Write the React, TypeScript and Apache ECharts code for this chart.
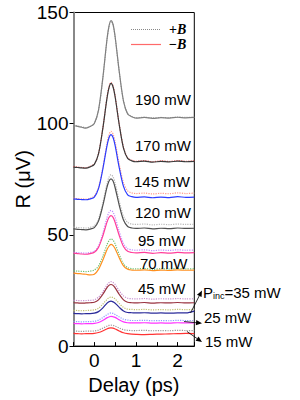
import React, { useEffect, useRef } from "react";
import * as echarts from "echarts";

// Delay axis samples (ps)
const delays = [-0.5, -0.4, -0.3, -0.2, -0.1, 0, 0.1, 0.2, 0.3, 0.35, 0.4, 0.45, 0.5, 0.6, 0.7, 0.8, 0.9, 1.0, 1.2, 1.4, 1.6, 1.8, 2.0, 2.2, 2.4];

const powerLabels = ["190 mW", "170 mW", "145 mW", "120 mW", "95 mW", "70 mW", "45 mW", "35 mW", "25 mW", "15 mW"];

// +B (dotted) and -B (solid) traces, R in µV (offset curves)
const p190Pos = [99.4, 99.0, 98.6, 98.2, 98.8, 100.2, 106.0, 119.6, 137.0, 143.4, 146.1, 144.4, 138.8, 123.0, 110.3, 104.6, 103.2, 102.7, 102.9, 102.6, 102.8, 102.7, 103.0, 102.8, 102.9];
const p190Neg = [99.2, 98.8, 98.4, 98.0, 98.7, 100.1, 106.1, 119.9, 137.3, 143.7, 146.4, 144.6, 139.0, 123.2, 110.2, 104.4, 103.1, 102.5, 102.8, 102.4, 102.7, 102.5, 102.9, 102.6, 102.8];
const p170Pos = [80.7, 80.5, 80.3, 80.2, 80.8, 81.9, 86.6, 97.6, 111.3, 116.4, 118.5, 116.9, 112.3, 99.6, 89.3, 84.6, 83.5, 83.1, 83.4, 82.9, 83.3, 83.0, 83.4, 83.1, 83.3];
const p170Neg = [80.5, 80.3, 80.1, 80.0, 80.6, 81.7, 86.4, 97.3, 110.9, 116.0, 118.1, 116.5, 112.0, 99.3, 89.0, 84.4, 83.3, 82.9, 83.2, 82.7, 83.1, 82.8, 83.2, 82.9, 83.1];
const p145Pos = [66.5, 66.3, 66.2, 66.1, 66.5, 67.4, 71.2, 79.8, 90.8, 94.9, 96.6, 95.3, 91.8, 81.6, 73.5, 69.8, 68.9, 68.6, 68.8, 68.4, 68.7, 68.5, 68.9, 68.6, 68.8];
const p145Neg = [66.2, 66.0, 65.9, 65.8, 66.2, 67.0, 70.8, 79.2, 89.7, 93.6, 95.1, 93.8, 90.1, 80.0, 71.8, 68.0, 67.2, 66.9, 67.1, 66.7, 67.0, 66.8, 67.2, 66.9, 67.0];
const p120Pos = [53.5, 53.3, 53.2, 53.1, 53.4, 54.1, 57.1, 64.0, 72.7, 75.8, 77.1, 76.1, 73.3, 65.1, 58.5, 55.6, 54.9, 54.7, 54.9, 54.5, 54.8, 54.6, 54.9, 54.7, 54.8];
const p120Neg = [52.7, 52.5, 52.4, 52.3, 52.6, 53.3, 56.2, 62.9, 71.1, 74.1, 75.2, 74.2, 71.2, 63.2, 56.7, 53.8, 53.1, 52.9, 53.1, 52.7, 53.0, 52.8, 53.1, 52.9, 53.0];
const p95Pos = [42.2, 42.0, 41.9, 41.8, 42.1, 42.6, 45.0, 50.5, 57.5, 60.0, 61.0, 60.2, 57.9, 51.4, 46.1, 43.8, 43.3, 43.1, 43.3, 42.9, 43.2, 43.0, 43.3, 43.1, 43.2];
const p95Neg = [41.8, 41.6, 41.4, 41.3, 41.6, 42.2, 44.4, 49.3, 55.5, 57.8, 58.7, 57.9, 55.6, 49.6, 44.8, 42.6, 42.1, 41.9, 42.1, 41.7, 42.0, 41.8, 42.1, 41.9, 42.0];
const p70Pos = [33.9, 33.7, 33.6, 33.5, 33.7, 34.2, 36.0, 40.2, 45.4, 47.3, 48.2, 47.6, 45.9, 41.0, 37.0, 35.3, 34.8, 34.7, 34.9, 34.5, 34.8, 34.6, 34.9, 34.7, 34.8];
const p70Neg = [32.8, 32.6, 32.5, 32.3, 32.0, 32.3, 34.5, 38.5, 43.2, 44.9, 45.7, 45.2, 43.8, 39.6, 36.1, 34.6, 34.2, 34.1, 34.3, 33.9, 34.2, 34.0, 34.3, 34.1, 34.2];
const p45Pos = [20.6, 20.5, 20.4, 20.5, 20.6, 20.8, 22.0, 24.3, 27.4, 28.5, 29.0, 28.6, 27.7, 24.8, 22.6, 21.5, 21.3, 21.2, 21.4, 21.1, 21.3, 21.2, 21.4, 21.2, 21.3];
const p45Neg = [19.5, 19.4, 19.3, 19.4, 19.5, 19.7, 20.8, 23.2, 26.2, 27.3, 27.7, 27.3, 26.2, 23.2, 20.8, 19.7, 19.5, 19.4, 19.6, 19.3, 19.5, 19.4, 19.6, 19.4, 19.5];
const p35Pos = [16.1, 16.0, 15.9, 16.0, 16.1, 16.3, 17.0, 18.8, 20.9, 21.7, 22.1, 21.8, 21.2, 19.1, 17.4, 16.6, 16.5, 16.4, 16.5, 16.3, 16.4, 16.3, 16.5, 16.4, 16.5];
const p35Neg = [14.7, 14.6, 14.5, 14.6, 14.6, 14.8, 15.5, 17.1, 19.2, 19.9, 20.2, 19.9, 19.3, 17.4, 15.8, 15.1, 15.0, 14.9, 15.0, 14.8, 14.9, 14.8, 14.9, 14.9, 15.7];
const p25Pos = [11.1, 11.0, 10.9, 11.0, 11.0, 11.2, 11.7, 12.8, 14.1, 14.6, 14.9, 14.7, 14.2, 13.1, 12.1, 11.7, 11.5, 11.5, 11.6, 11.4, 11.5, 11.4, 11.6, 11.5, 11.5];
const p25Neg = [10.2, 10.1, 10.0, 10.1, 10.1, 10.2, 10.6, 11.5, 12.7, 13.1, 13.4, 13.2, 12.9, 11.8, 10.9, 10.5, 10.4, 10.4, 10.5, 10.3, 10.4, 10.3, 10.5, 10.4, 10.4];
const p15Pos = [6.8, 6.7, 6.6, 6.7, 6.7, 6.8, 7.2, 8.0, 8.9, 9.3, 9.4, 9.3, 9.0, 8.1, 7.4, 7.1, 7.0, 7.0, 7.1, 6.9, 7.0, 6.9, 7.1, 7.0, 7.0];
const p15Neg = [5.7, 5.6, 5.5, 5.6, 5.6, 5.7, 6.1, 6.8, 7.7, 8.1, 8.2, 8.1, 7.7, 6.8, 6.0, 5.6, 5.4, 5.3, 5.2, 5.3, 5.4, 5.5, 5.6, 5.7, 5.6];

const yTicks = [0, 50, 100, 150];

const posSeries = [p190Pos, p170Pos, p145Pos, p120Pos, p95Pos, p70Pos, p45Pos, p35Pos, p25Pos, p15Pos];
const negSeries = [p190Neg, p170Neg, p145Neg, p120Neg, p95Neg, p70Neg, p45Neg, p35Neg, p25Neg, p15Neg];
const posColors = ["#aaaaaa", "#ff5a5a", "#ff9a8a", "#b8b8b8", "#c08cff", "#70c070", "#c890d0", "#c0c070", "#8c9cff", "#999999"];
const negColors = ["#808080", "#3a3a3a", "#2b3cff", "#505050", "#ff3d9a", "#ff9020", "#993340", "#2b2b9a", "#ff33ff", "#ff3333"];

const FONT = "'Liberation Sans', Arial, sans-serif";
const SERIF = "'Liberation Serif', 'Times New Roman', serif";

function arrow(x1: number, y1: number, x2: number, y2: number) {
  const a = Math.atan2(y2 - y1, x2 - x1);
  const L = 6;
  const W = 2.6;
  const bx = x2 - L * Math.cos(a);
  const by = y2 - L * Math.sin(a);
  const px = -Math.sin(a) * W;
  const py = Math.cos(a) * W;
  return [
    { type: "line", shape: { x1, y1, x2: bx, y2: by }, style: { stroke: "#000", lineWidth: 0.8 }, z: 100 },
    {
      type: "polygon",
      shape: { points: [[x2, y2], [bx + px, by + py], [bx - px, by - py]] },
      style: { fill: "#000" },
      z: 100,
    },
  ];
}

export default function App() {
  const ref = useRef<HTMLDivElement>(null);
  useEffect(() => {
    document.body.style.margin = "0";
    const chart = echarts.init(ref.current!, null, { renderer: "svg" });

    const series: any[] = [];
    posSeries.forEach((arr, k) => {
      series.push({
        type: "line",
        name: "+B " + powerLabels[k],
        data: delays.map((d, i) => [d, arr[i]]),
        showSymbol: false,
        symbol: "none",
        smooth: 0.3,
        lineStyle: { color: posColors[k], width: 1.2, type: "dotted" },
        z: 2,
      });
    });
    negSeries.forEach((arr, k) => {
      series.push({
        type: "line",
        name: "-B " + powerLabels[k],
        data: delays.map((d, i) => [d, arr[i]]),
        showSymbol: false,
        symbol: "none",
        smooth: 0.3,
        lineStyle: { color: negColors[k], width: 1.2 },
        z: 3,
      });
    });

    const inLabels = [
      { t: powerLabels[0], x: 135, y: 99 },
      { t: powerLabels[1], x: 135, y: 145.5 },
      { t: powerLabels[2], x: 134, y: 181 },
      { t: powerLabels[3], x: 135, y: 212.5 },
      { t: powerLabels[4], x: 138, y: 240 },
      { t: powerLabels[5], x: 140, y: 263 },
      { t: powerLabels[6], x: 138, y: 288 },
    ];

    const graphic: any[] = [
      ...inLabels.map((l) => ({
        type: "text",
        x: l.x,
        y: l.y,
        style: { text: l.t, fontSize: 15, fontFamily: FONT, fill: "#000", verticalAlign: "middle", align: "left" },
        z: 100,
      })),
      {
        type: "text",
        x: 203,
        y: 292,
        style: {
          text: "{p|P}{s|inc}{p|=" + powerLabels[7] + "}",
          fontFamily: FONT,
          fill: "#000",
          verticalAlign: "middle",
          rich: {
            p: { fontSize: 15, fontFamily: FONT, fill: "#000" },
            s: { fontSize: 9, fontFamily: FONT, fill: "#000", padding: [8, 0, 0, 0] },
          },
        },
        z: 100,
      },
      {
        type: "text",
        x: 204,
        y: 317,
        style: { text: powerLabels[8], fontSize: 15, fontFamily: FONT, fill: "#000", verticalAlign: "middle" },
        z: 100,
      },
      {
        type: "text",
        x: 205,
        y: 341.5,
        style: { text: powerLabels[9], fontSize: 15, fontFamily: FONT, fill: "#000", verticalAlign: "middle" },
        z: 100,
      },
      ...arrow(190.5, 313, 202, 290.5),
      ...arrow(184, 321.5, 202, 323.3),
      ...arrow(187, 331.5, 202, 342),
      // legend
      {
        type: "line",
        shape: { x1: 131, y1: 29.5, x2: 161, y2: 29.5 },
        style: { stroke: "#888", lineWidth: 1, lineDash: [1, 1] },
        z: 100,
      },
      {
        type: "line",
        shape: { x1: 131, y1: 44.5, x2: 161, y2: 44.5 },
        style: { stroke: "#ff6a6a", lineWidth: 1.2 },
        z: 100,
      },
      {
        type: "text",
        x: 169,
        y: 29.5,
        style: {
          text: "{a|+}{b|B}",
          verticalAlign: "middle",
          rich: {
            a: { fontSize: 14, fontFamily: SERIF, fontWeight: "bold", fill: "#000" },
            b: { fontSize: 14, fontFamily: SERIF, fontWeight: "bold", fontStyle: "italic", fill: "#000" },
          },
        },
        z: 100,
      },
      {
        type: "text",
        x: 169,
        y: 44.5,
        style: {
          text: "{a|\u2212}{b|B}",
          verticalAlign: "middle",
          rich: {
            a: { fontSize: 14, fontFamily: SERIF, fontWeight: "bold", fill: "#000" },
            b: { fontSize: 14, fontFamily: SERIF, fontWeight: "bold", fontStyle: "italic", fill: "#000" },
          },
        },
        z: 100,
      },
    ];

    chart.setOption({
      animation: false,
      backgroundColor: "#fff",
      grid: {
        left: 73.5,
        right: 105.7,
        top: 12.5,
        bottom: 53.5,
        show: true,
        borderColor: "#000",
        borderWidth: 1,
        backgroundColor: "transparent",
      },
      xAxis: {
        type: "value",
        min: -0.5,
        max: 2.4,
        interval: 0.5,
        name: "Delay (ps)",
        nameLocation: "middle",
        nameGap: 27,
        nameTextStyle: { fontSize: 20, fontFamily: FONT, color: "#000" },
        axisLine: { show: true, onZero: false, lineStyle: { color: "#000", width: 1 } },
        axisTick: { show: true, inside: true, length: 4, lineStyle: { color: "#000" } },
        axisLabel: {
          fontSize: 19,
          fontFamily: FONT,
          color: "#000",
          margin: 5,
          formatter: (v: number) => (Math.abs(v - Math.round(v)) < 1e-6 ? String(Math.round(v)) : ""),
        },
        splitLine: { show: false },
      },
      yAxis: {
        type: "value",
        min: yTicks[0],
        max: yTicks[yTicks.length - 1],
        interval: yTicks[1] - yTicks[0],
        name: "R (\u03bcV)",
        nameLocation: "middle",
        nameGap: 38,
        nameTextStyle: { fontSize: 20, fontFamily: FONT, color: "#000" },
        axisLine: { show: true, onZero: false, lineStyle: { color: "#888", width: 2 } },
        axisTick: { show: true, inside: false, length: 4, lineStyle: { color: "#000" } },
        axisLabel: { fontSize: 19, fontFamily: FONT, color: "#000", margin: 5 },
        splitLine: { show: false },
      },
      series,
      graphic,
    });
    return () => chart.dispose();
  }, []);
  return <div ref={ref} style={{ width: 300, height: 400 }} />;
}
